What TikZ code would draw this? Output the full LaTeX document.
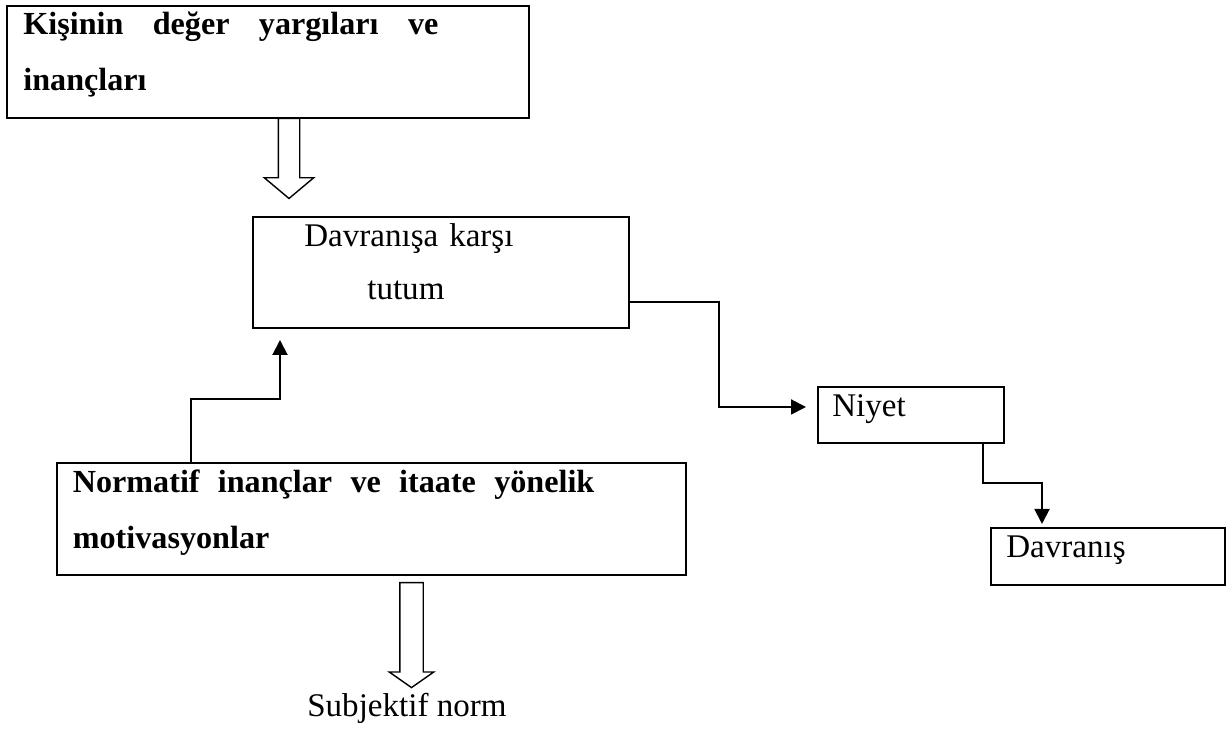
\documentclass[tikz,border=0pt]{standalone}
\usepackage{fontspec}
\setmainfont{Liberation Serif}
\usepackage{tikz}
\usetikzlibrary{arrows.meta, shapes.arrows}

\tikzset{
    box/.style={draw, line width=1.1pt, inner sep=0pt, outer sep=0pt},
    txt/.style={inner sep=0pt, anchor=base west, font=\fontsize{18.8pt}{31.7pt}\selectfont},
    boldtxt/.style={txt, font=\fontsize{18.3pt}{31.7pt}\selectfont\bfseries},
    conn/.style={line width=1.1pt, -{Triangle[length=0.3cm, width=0.3cm]}},
    hollow/.style={single arrow, draw, line width=0.8pt,
        single arrow head indent=0pt, shape border rotate=270}
}

\begin{document}
\begin{tikzpicture}
            \useasboundingbox (0,0) rectangle (24.64,14.62);

            % boxes
            \node[box, minimum width=10.44cm, minimum height=2.24cm] (values) at (5.36, 13.38) {};
            \node[box, minimum width=7.52cm, minimum height=2.22cm] (attitude) at (8.82, 9.17) {};
            \node[box, minimum width=3.72cm, minimum height=1.12cm] (niyet) at (18.22, 6.32) {};
            \node[box, minimum width=4.68cm, minimum height=1.14cm] (davranis) at (22.16, 3.49) {};
            \node[box, minimum width=12.58cm, minimum height=2.24cm] (normatif) at (7.43, 4.24) {};

            % texts
            \node[boldtxt, text width=9cm, align=left] (valuestxt) at (0.46, 13.92)
                {\hbox to 8.3cm{Kişinin\hfill değer\hfill yargıları\hfill ve}\\inançları};
            \node[txt, text width=6cm, align=left] (attitudetxt) at (6.08, 9.68)
                {Davranışa karşı\\[-0.06cm]\hspace*{1.26cm}tutum};
            \node[txt] (niyettxt) at (16.64, 6.28) {Niyet};
            \node[txt] (davranistxt) at (20.12, 3.46) {Davranış};
            \node[boldtxt, text width=11cm, align=left] (normatiftxt) at (1.45, 4.76)
                {\hbox to 10.43cm{Normatif\hfill inançlar\hfill ve\hfill itaate\hfill yönelik}\\motivasyonlar};
            \node[txt] (subj) at (6.14, 0.28) {Subjektif norm};

            % hollow arrows
            \node[hollow, inner sep=0.2cm, minimum height=1.6cm, minimum width=0.96cm,
                single arrow head extend=0.28cm, single arrow tip angle=100] (valuesarrow) at (5.78, 11.54) {};
            \node[hollow, inner sep=0.22cm, minimum height=2.1cm, minimum width=0.86cm,
                single arrow head extend=0.21cm, single arrow tip angle=110] (subjarrow) at (8.23, 2.0) {};

            % connectors
            \draw[conn] ([yshift=-0.59cm]attitude.east) -- ++(1.8,0) |- ([xshift=-0.24cm, yshift=0.16cm]niyet.west); % tutum-niyet
            \draw[conn] ([xshift=1.44cm]niyet.south) -- ++(0,-0.8) -| ([xshift=-1.32cm, yshift=0.08cm]davranis.north); % niyet-davranis
            \draw[conn] ([xshift=-3.61cm]normatif.north) -- ++(0,1.28) -| ([xshift=-3.22cm, yshift=-0.24cm]attitude.south); % normatif-tutum
        \end{tikzpicture}
\end{document}
